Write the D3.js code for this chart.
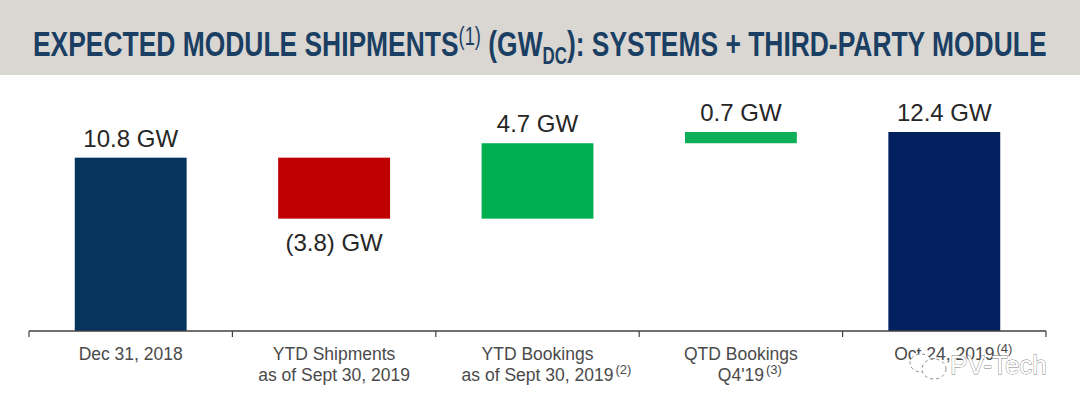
<!DOCTYPE html>
<html>
<head>
<meta charset="utf-8">
<script src="https://cdn.jsdelivr.net/npm/d3@7"></script>
<style>
  html, body { margin: 0; padding: 0; background: #fff; overflow: hidden; }
  svg { display: block; }
  text { font-family: "Liberation Sans", Arial, sans-serif; }
</style>
</head>
<body>
<div id="chart"></div>
<script>
const categories = ["Dec 31, 2018", "YTD Shipments", "YTD Bookings", "QTD Bookings", "Oct 24, 2019"];
const secondLines = ["", "as of Sept 30, 2019", "as of Sept 30, 2019", "Q4'19", ""];
const footnotes = ["", "", "(2)", "(3)", "(4)"];
const barStart = [0, 10.8, 7.0, 11.7, 0];
const barEnd = [10.8, 7.0, 11.7, 12.4, 12.4];
const valueLabels = ["10.8 GW", "(3.8) GW", "4.7 GW", "0.7 GW", "12.4 GW"];
const barColors = ["#05345c", "#c00000", "#00b050", "#0fae58", "#03215f"];

const width = 1080, height = 408;
const svg = d3.select("#chart").append("svg")
  .attr("width", width)
  .attr("height", height);

// header band
svg.append("rect")
  .attr("width", width)
  .attr("height", 75)
  .attr("fill", "#dad7d3");

const title = svg.append("text")
  .attr("fill", "#1b3f63")
  .style("font-family", "'Liberation Sans Narrow', 'Liberation Sans', sans-serif")
  .style("font-weight", "bold")
  .style("font-size", "36px");
title.append("tspan").text("EXPECTED MODULE SHIPMENTS");
title.append("tspan").attr("dy", -11).style("font-size", "25px").style("font-weight", "normal").text("(1)");
title.append("tspan").attr("dy", 11).text(" (GW");
title.append("tspan").attr("dy", 8).style("font-size", "23px").text("DC");
title.append("tspan").attr("dy", -8).text("): SYSTEMS + THIRD-PARTY MODULE");
// squeeze the title to the width it has in the header
const titleScale = 1014 / title.node().getComputedTextLength();
title.attr("transform", `translate(33,56) scale(${titleScale},1)`);

const x = d3.scaleBand()
  .domain(categories)
  .range([29, 1046])
  .paddingInner(0.45)
  .paddingOuter(0.225);

const y = d3.scaleLinear()
  .domain([0, 12.4])
  .range([331, 132]);

// bars
svg.selectAll(".bar")
  .data(categories)
  .enter()
  .append("rect")
  .attr("class", "bar")
  .attr("x", d => x(d))
  .attr("y", (d, i) => y(Math.max(barStart[i], barEnd[i])))
  .attr("width", x.bandwidth())
  .attr("height", (d, i) => Math.abs(y(barStart[i]) - y(barEnd[i])))
  .attr("fill", (d, i) => barColors[i]);

// value labels, the falling bar has its label underneath
svg.selectAll(".value")
  .data(categories)
  .enter()
  .append("text")
  .attr("class", "value")
  .attr("x", d => x(d) + x.bandwidth() / 2)
  .attr("y", (d, i) => barEnd[i] < barStart[i]
    ? y(barEnd[i]) + 32
    : y(Math.max(barStart[i], barEnd[i])) - 11)
  .attr("text-anchor", "middle")
  .attr("fill", "#262626")
  .style("font-size", "24px")
  .text((d, i) => valueLabels[i]);

// axis, ticks sit between the categories
const axis = svg.append("g").attr("transform", "translate(0,331)");
axis.append("path")
  .attr("d", `M${x.range()[0]},0H${x.range()[1]}`)
  .attr("stroke", "#404040")
  .attr("stroke-width", 1.5)
  .attr("fill", "none");
axis.selectAll(".tick-line")
  .data(d3.range(categories.length + 1))
  .enter()
  .append("line")
  .attr("class", "tick-line")
  .attr("x1", d => x.range()[0] + d * x.step())
  .attr("x2", d => x.range()[0] + d * x.step())
  .attr("y1", 0)
  .attr("y2", 6)
  .attr("stroke", "#404040")
  .attr("stroke-width", 1.2);

// category labels, footnote hangs off the centred line
function addLine(str, cx, yPos, note) {
  const t = svg.append("text")
    .attr("x", cx)
    .attr("y", yPos)
    .attr("text-anchor", "middle")
    .attr("fill", "#4a4a4a")
    .style("font-size", "17.5px")
    .text(str);
  if (note) {
    svg.append("text")
      .attr("x", cx + t.node().getComputedTextLength() / 2 + 2)
      .attr("y", yPos - 7)
      .attr("fill", "#4a4a4a")
      .style("font-size", "13px")
      .text(note);
  }
}
categories.forEach((d, i) => {
  const cx = x(d) + x.bandwidth() / 2;
  addLine(d, cx, 360, secondLines[i] ? "" : footnotes[i]);
  if (secondLines[i]) addLine(secondLines[i], cx, 381, footnotes[i]);
});

// watermark over the last label
const mark = svg.append("g").attr("fill", "none").attr("stroke", "#8a8a8a").attr("stroke-width", 1);
mark.append("ellipse").attr("cx", 921).attr("cy", 363).attr("rx", 11).attr("ry", 9)
  .attr("fill", "#fff").attr("stroke-dasharray", "3 3");
mark.append("ellipse").attr("cx", 934).attr("cy", 369).attr("rx", 12).attr("ry", 10)
  .attr("fill", "#fff").attr("stroke-dasharray", "3 3");
svg.append("text")
  .attr("x", 950)
  .attr("y", 374)
  .attr("fill", "#fff")
  .attr("stroke", "#7d7d7d")
  .attr("stroke-width", 0.8)
  .attr("paint-order", "stroke")
  .style("font-size", "26px")
  .text("PV-Tech");
</script>
</body>
</html>
